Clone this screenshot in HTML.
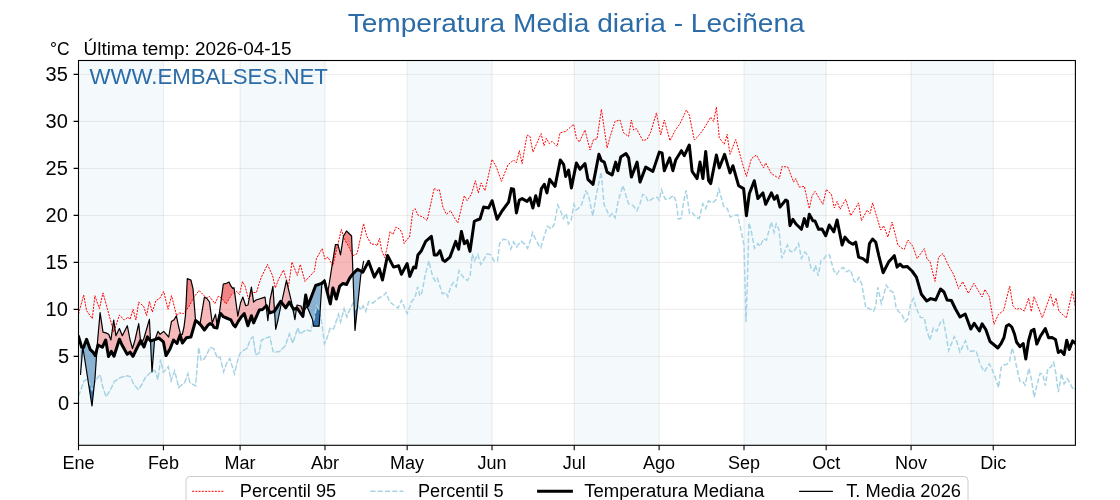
<!DOCTYPE html><html><head><meta charset="utf-8"><style>html,body{margin:0;padding:0;background:#fff;width:1120px;height:500px;overflow:hidden}svg{display:block;will-change:transform}text{font-family:"Liberation Sans",sans-serif}</style></head><body><svg width="1120" height="500" viewBox="0 0 1120 500">
<defs>
<clipPath id="ax"><rect x="78.5" y="60.5" width="996.9" height="384.8"/></clipPath>
<clipPath id="aM"><path d="M78.5,336.4 L81.6,347.1 L83.5,347.5 L86.6,339.3 L90.1,349.3 L93.0,352.1 L95.3,355.6 L98.0,345.0 L102.3,347.3 L105.7,340.0 L108.5,356.5 L111.3,351.4 L114.0,356.2 L119.4,339.2 L122.0,345.0 L127.2,354.3 L130.1,352.1 L133.0,356.3 L136.0,350.0 L138.0,346.0 L140.7,340.5 L144.0,347.0 L147.5,336.8 L150.5,341.0 L155.5,339.4 L158.8,338.0 L163.4,341.8 L166.0,355.6 L170.0,349.0 L173.5,340.0 L177.0,343.5 L180.1,335.0 L182.4,343.0 L186.3,337.8 L190.9,337.1 L195.6,320.5 L198.1,322.4 L200.6,324.9 L204.4,330.0 L208.2,324.9 L210.1,323.6 L212.6,324.9 L213.9,327.4 L217.0,328.0 L219.5,316.1 L220.8,313.6 L223.3,316.7 L226.5,318.0 L230.9,319.9 L233.4,324.9 L235.3,326.8 L238.4,321.1 L241.0,317.3 L244.3,313.6 L247.9,325.7 L251.4,315.7 L253.6,322.9 L259.3,310.0 L262.5,309.5 L266.4,305.7 L270.0,312.9 L274.3,311.4 L280.7,301.4 L285.7,307.9 L289.3,302.1 L293.6,309.3 L297.0,308.0 L302.9,316.4 L305.7,295.0 L307.9,305.7 L315.7,285.5 L321.0,283.7 L324.4,281.1 L330.3,304.0 L332.9,288.0 L336.3,299.0 L339.7,286.2 L343.0,283.5 L346.5,284.5 L349.9,277.7 L353.3,273.5 L357.5,269.2 L362.9,272.1 L368.6,261.4 L374.3,277.1 L379.3,268.6 L382.5,280.0 L387.5,255.5 L393.6,267.1 L398.6,265.7 L401.4,274.3 L407.1,263.6 L409.8,276.4 L413.6,267.1 L415.7,267.9 L417.9,255.0 L421.4,250.7 L425.7,241.4 L431.4,236.4 L434.3,255.0 L437.0,255.0 L440.0,250.7 L442.9,260.0 L445.0,261.4 L450.0,257.1 L455.7,241.4 L458.6,249.3 L461.4,231.4 L464.3,243.6 L467.1,240.7 L470.0,251.4 L474.3,221.4 L477.0,220.0 L480.0,219.0 L483.6,207.1 L488.6,207.9 L492.1,200.7 L497.1,219.3 L502.0,211.0 L508.6,202.1 L511.4,188.6 L513.6,189.3 L516.4,212.9 L519.3,200.0 L522.1,198.6 L527.1,201.4 L530.0,197.9 L532.9,208.0 L535.7,195.7 L538.6,205.7 L541.4,188.6 L544.3,184.3 L546.9,192.9 L549.7,179.3 L555.0,186.4 L560.3,160.0 L563.6,164.3 L565.7,176.4 L568.6,170.0 L571.4,187.9 L576.4,162.9 L580.0,169.3 L585.0,163.6 L587.9,179.3 L593.1,184.3 L598.9,154.3 L601.4,160.7 L604.3,162.1 L607.1,172.1 L612.1,175.0 L615.7,162.1 L617.9,170.7 L620.7,157.1 L626.0,153.6 L628.6,157.9 L631.4,177.1 L637.1,162.1 L640.0,182.1 L645.7,167.1 L652.9,171.4 L659.3,152.1 L662.1,152.9 L664.3,170.7 L669.7,157.9 L672.9,170.7 L675.7,160.0 L681.4,150.7 L684.3,155.7 L689.3,145.0 L692.1,171.4 L697.1,178.6 L700.0,162.1 L702.9,178.6 L705.7,151.4 L708.6,180.7 L710.7,183.6 L716.4,155.0 L719.3,167.9 L724.6,154.3 L730.0,172.9 L732.9,165.7 L738.6,185.7 L743.6,188.6 L746.4,215.7 L749.3,193.8 L754.3,180.7 L757.9,198.6 L762.9,192.9 L765.7,204.3 L771.4,192.9 L774.3,199.3 L777.1,195.7 L780.0,207.1 L785.7,200.0 L787.5,201.0 L790.0,225.7 L792.9,219.3 L796.0,224.0 L801.4,229.3 L804.3,218.6 L807.1,226.4 L809.3,214.3 L812.9,220.7 L815.0,221.0 L818.6,229.3 L822.0,229.0 L825.7,235.7 L829.3,225.0 L833.8,231.8 L837.1,220.0 L842.1,245.0 L845.0,237.1 L849.0,242.0 L852.9,244.3 L855.7,242.1 L858.6,257.1 L862.9,258.6 L867.2,262.0 L869.5,243.5 L872.6,239.0 L875.8,242.3 L878.9,256.0 L883.1,272.7 L888.6,262.1 L894.3,255.7 L897.1,267.1 L900.0,264.0 L902.9,267.1 L907.1,266.4 L912.0,271.0 L916.4,277.1 L921.4,294.3 L926.7,301.0 L930.7,298.6 L935.7,300.0 L940.5,289.0 L944.0,292.0 L947.1,300.0 L951.4,300.5 L955.5,309.0 L960.0,317.0 L965.2,314.0 L970.8,329.0 L974.2,323.4 L979.4,331.0 L982.1,323.8 L985.8,329.6 L990.0,341.5 L993.7,344.5 L997.8,348.0 L1001.1,343.5 L1004.0,337.5 L1006.4,326.0 L1009.0,324.5 L1011.8,327.0 L1014.5,334.0 L1016.5,342.0 L1019.9,346.7 L1023.2,343.5 L1025.8,359.1 L1028.5,341.0 L1031.3,330.8 L1034.0,329.2 L1036.8,344.1 L1040.5,336.0 L1045.3,328.6 L1048.6,337.8 L1052.0,337.5 L1055.5,339.5 L1058.3,352.5 L1060.9,350.6 L1064.1,354.5 L1066.7,340.2 L1069.3,349.5 L1072.6,340.9 L1075.4,343.5 L1075.4,0 L78.5,0 Z"/></clipPath>
<clipPath id="bM"><path d="M78.5,336.4 L81.6,347.1 L83.5,347.5 L86.6,339.3 L90.1,349.3 L93.0,352.1 L95.3,355.6 L98.0,345.0 L102.3,347.3 L105.7,340.0 L108.5,356.5 L111.3,351.4 L114.0,356.2 L119.4,339.2 L122.0,345.0 L127.2,354.3 L130.1,352.1 L133.0,356.3 L136.0,350.0 L138.0,346.0 L140.7,340.5 L144.0,347.0 L147.5,336.8 L150.5,341.0 L155.5,339.4 L158.8,338.0 L163.4,341.8 L166.0,355.6 L170.0,349.0 L173.5,340.0 L177.0,343.5 L180.1,335.0 L182.4,343.0 L186.3,337.8 L190.9,337.1 L195.6,320.5 L198.1,322.4 L200.6,324.9 L204.4,330.0 L208.2,324.9 L210.1,323.6 L212.6,324.9 L213.9,327.4 L217.0,328.0 L219.5,316.1 L220.8,313.6 L223.3,316.7 L226.5,318.0 L230.9,319.9 L233.4,324.9 L235.3,326.8 L238.4,321.1 L241.0,317.3 L244.3,313.6 L247.9,325.7 L251.4,315.7 L253.6,322.9 L259.3,310.0 L262.5,309.5 L266.4,305.7 L270.0,312.9 L274.3,311.4 L280.7,301.4 L285.7,307.9 L289.3,302.1 L293.6,309.3 L297.0,308.0 L302.9,316.4 L305.7,295.0 L307.9,305.7 L315.7,285.5 L321.0,283.7 L324.4,281.1 L330.3,304.0 L332.9,288.0 L336.3,299.0 L339.7,286.2 L343.0,283.5 L346.5,284.5 L349.9,277.7 L353.3,273.5 L357.5,269.2 L362.9,272.1 L368.6,261.4 L374.3,277.1 L379.3,268.6 L382.5,280.0 L387.5,255.5 L393.6,267.1 L398.6,265.7 L401.4,274.3 L407.1,263.6 L409.8,276.4 L413.6,267.1 L415.7,267.9 L417.9,255.0 L421.4,250.7 L425.7,241.4 L431.4,236.4 L434.3,255.0 L437.0,255.0 L440.0,250.7 L442.9,260.0 L445.0,261.4 L450.0,257.1 L455.7,241.4 L458.6,249.3 L461.4,231.4 L464.3,243.6 L467.1,240.7 L470.0,251.4 L474.3,221.4 L477.0,220.0 L480.0,219.0 L483.6,207.1 L488.6,207.9 L492.1,200.7 L497.1,219.3 L502.0,211.0 L508.6,202.1 L511.4,188.6 L513.6,189.3 L516.4,212.9 L519.3,200.0 L522.1,198.6 L527.1,201.4 L530.0,197.9 L532.9,208.0 L535.7,195.7 L538.6,205.7 L541.4,188.6 L544.3,184.3 L546.9,192.9 L549.7,179.3 L555.0,186.4 L560.3,160.0 L563.6,164.3 L565.7,176.4 L568.6,170.0 L571.4,187.9 L576.4,162.9 L580.0,169.3 L585.0,163.6 L587.9,179.3 L593.1,184.3 L598.9,154.3 L601.4,160.7 L604.3,162.1 L607.1,172.1 L612.1,175.0 L615.7,162.1 L617.9,170.7 L620.7,157.1 L626.0,153.6 L628.6,157.9 L631.4,177.1 L637.1,162.1 L640.0,182.1 L645.7,167.1 L652.9,171.4 L659.3,152.1 L662.1,152.9 L664.3,170.7 L669.7,157.9 L672.9,170.7 L675.7,160.0 L681.4,150.7 L684.3,155.7 L689.3,145.0 L692.1,171.4 L697.1,178.6 L700.0,162.1 L702.9,178.6 L705.7,151.4 L708.6,180.7 L710.7,183.6 L716.4,155.0 L719.3,167.9 L724.6,154.3 L730.0,172.9 L732.9,165.7 L738.6,185.7 L743.6,188.6 L746.4,215.7 L749.3,193.8 L754.3,180.7 L757.9,198.6 L762.9,192.9 L765.7,204.3 L771.4,192.9 L774.3,199.3 L777.1,195.7 L780.0,207.1 L785.7,200.0 L787.5,201.0 L790.0,225.7 L792.9,219.3 L796.0,224.0 L801.4,229.3 L804.3,218.6 L807.1,226.4 L809.3,214.3 L812.9,220.7 L815.0,221.0 L818.6,229.3 L822.0,229.0 L825.7,235.7 L829.3,225.0 L833.8,231.8 L837.1,220.0 L842.1,245.0 L845.0,237.1 L849.0,242.0 L852.9,244.3 L855.7,242.1 L858.6,257.1 L862.9,258.6 L867.2,262.0 L869.5,243.5 L872.6,239.0 L875.8,242.3 L878.9,256.0 L883.1,272.7 L888.6,262.1 L894.3,255.7 L897.1,267.1 L900.0,264.0 L902.9,267.1 L907.1,266.4 L912.0,271.0 L916.4,277.1 L921.4,294.3 L926.7,301.0 L930.7,298.6 L935.7,300.0 L940.5,289.0 L944.0,292.0 L947.1,300.0 L951.4,300.5 L955.5,309.0 L960.0,317.0 L965.2,314.0 L970.8,329.0 L974.2,323.4 L979.4,331.0 L982.1,323.8 L985.8,329.6 L990.0,341.5 L993.7,344.5 L997.8,348.0 L1001.1,343.5 L1004.0,337.5 L1006.4,326.0 L1009.0,324.5 L1011.8,327.0 L1014.5,334.0 L1016.5,342.0 L1019.9,346.7 L1023.2,343.5 L1025.8,359.1 L1028.5,341.0 L1031.3,330.8 L1034.0,329.2 L1036.8,344.1 L1040.5,336.0 L1045.3,328.6 L1048.6,337.8 L1052.0,337.5 L1055.5,339.5 L1058.3,352.5 L1060.9,350.6 L1064.1,354.5 L1066.7,340.2 L1069.3,349.5 L1072.6,340.9 L1075.4,343.5 L1075.4,500 L78.5,500 Z"/></clipPath>
<clipPath id="a95"><path d="M78.5,314.0 L83.7,295.0 L86.6,310.7 L92.3,318.6 L94.9,295.7 L99.4,308.6 L103.0,292.9 L107.3,308.6 L113.7,332.1 L119.4,315.0 L124.4,320.0 L128.0,317.1 L130.0,319.5 L133.0,309.3 L135.9,320.0 L138.7,302.1 L143.7,306.4 L146.6,315.7 L149.4,301.4 L152.3,312.1 L155.9,300.7 L160.1,297.9 L163.7,291.4 L168.0,309.3 L171.6,295.7 L176.6,315.7 L179.4,312.9 L183.7,313.6 L189.0,306.5 L194.0,297.0 L199.0,290.5 L204.0,295.5 L206.5,298.0 L209.5,296.5 L215.0,303.5 L218.5,296.0 L222.0,298.5 L226.0,304.0 L232.0,294.0 L236.6,291.4 L239.5,294.5 L242.5,281.5 L245.0,286.0 L248.5,299.0 L252.5,292.5 L256.5,292.5 L258.6,285.0 L261.4,277.0 L267.5,264.5 L272.7,276.0 L275.3,288.0 L278.5,279.5 L283.5,270.0 L288.5,286.5 L292.0,262.0 L297.3,275.5 L300.3,264.4 L305.0,281.4 L314.3,271.4 L316.4,258.6 L322.1,248.6 L325.0,259.3 L327.9,257.1 L332.9,265.7 L341.4,229.3 L344.3,239.3 L348.6,246.4 L352.9,255.7 L357.1,253.6 L363.6,223.6 L366.7,236.0 L371.2,244.2 L375.0,244.2 L377.2,245.7 L379.5,238.2 L381.7,250.2 L384.7,257.7 L387.0,248.0 L390.0,231.5 L393.0,234.5 L396.0,227.0 L399.7,229.2 L402.0,233.0 L404.2,243.5 L407.2,239.0 L409.5,237.5 L412.9,210.7 L415.0,208.6 L417.9,215.0 L422.9,217.1 L427.1,220.5 L434.3,187.9 L437.1,190.7 L439.3,189.3 L442.9,207.1 L446.4,214.3 L450.7,210.7 L453.6,216.4 L457.8,223.0 L464.3,195.7 L467.1,200.7 L471.4,194.3 L475.4,180.7 L478.3,192.9 L481.1,182.9 L485.0,190.7 L492.1,159.3 L496.4,167.1 L501.4,181.4 L507.9,165.0 L513.6,160.0 L516.4,162.9 L519.3,150.7 L522.1,163.6 L527.0,135.0 L530.0,136.4 L532.9,152.1 L541.1,133.6 L544.0,145.7 L546.4,138.3 L549.3,143.6 L552.1,141.4 L557.1,146.4 L560.0,132.9 L565.7,131.4 L573.6,124.3 L576.4,137.9 L579.3,142.1 L585.0,130.0 L590.0,150.0 L593.6,139.3 L597.0,139.0 L601.4,109.3 L607.1,147.9 L610.0,137.1 L615.0,121.4 L620.0,120.0 L623.6,132.9 L628.6,136.4 L631.4,120.0 L633.6,130.0 L636.4,128.6 L642.9,140.7 L647.1,139.3 L650.7,132.1 L656.4,112.9 L660.7,135.0 L664.3,120.0 L670.0,140.7 L675.0,130.7 L680.0,123.6 L686.4,110.0 L689.3,115.0 L694.3,140.0 L699.3,135.0 L702.9,130.0 L705.7,125.7 L710.7,117.1 L713.6,121.4 L716.4,107.1 L719.3,137.9 L724.3,144.3 L727.1,134.3 L730.0,154.3 L735.7,139.5 L742.9,165.0 L746.4,176.4 L751.4,158.6 L756.4,155.0 L763.6,167.9 L765.7,162.9 L771.4,173.6 L779.3,178.6 L782.1,166.4 L787.9,167.1 L793.6,182.1 L795.7,178.6 L799.3,187.1 L804.3,186.4 L809.3,208.6 L812.1,195.7 L815.0,191.4 L822.9,204.3 L826.4,189.3 L831.4,194.3 L834.3,207.9 L837.1,201.4 L840.0,209.3 L845.7,199.3 L850.7,215.7 L858.6,202.9 L861.4,220.7 L867.1,210.0 L870.0,213.6 L872.6,202.9 L880.7,230.0 L883.6,225.7 L887.9,237.1 L892.1,222.1 L897.9,245.0 L901.4,247.9 L904.3,249.3 L907.9,240.0 L912.9,246.4 L917.1,258.6 L924.3,248.6 L927.1,259.3 L930.0,261.4 L935.0,281.4 L938.6,257.1 L942.9,253.6 L949.3,267.1 L953.6,274.3 L958.6,288.6 L962.8,281.6 L968.3,293.4 L973.9,283.3 L982.1,297.0 L984.9,289.4 L989.2,296.5 L994.0,324.3 L998.3,314.6 L1003.5,310.6 L1009.7,286.2 L1012.9,305.6 L1016.2,309.4 L1019.9,308.3 L1024.3,311.0 L1028.6,298.1 L1031.3,311.6 L1034.0,296.5 L1042.3,317.7 L1050.7,294.3 L1053.4,306.2 L1056.1,298.1 L1058.8,311.0 L1066.4,318.0 L1072.3,291.6 L1075.4,306.2 L1075.4,0 L78.5,0 Z"/></clipPath>
<clipPath id="b5"><path d="M78.5,396.0 L82.2,386.0 L84.3,380.6 L87.8,379.2 L92.0,390.0 L95.0,382.0 L98.0,377.0 L100.4,375.0 L102.5,386.0 L106.0,396.7 L110.2,390.4 L114.4,381.3 L120.0,377.8 L124.2,376.4 L127.7,375.7 L130.5,377.1 L133.3,383.4 L138.2,389.7 L141.7,384.8 L145.2,377.8 L149.4,373.6 L153.6,370.1 L155.5,372.0 L157.8,379.9 L160.6,359.6 L163.4,372.2 L168.3,366.6 L171.1,380.6 L174.6,370.8 L178.8,387.6 L181.5,385.0 L184.5,383.0 L187.9,373.6 L190.0,383.0 L192.8,384.4 L195.6,385.8 L198.7,347.3 L201.2,360.6 L204.0,359.2 L206.1,355.7 L210.3,347.3 L213.8,348.7 L217.3,357.8 L220.1,357.1 L223.6,371.8 L227.1,362.0 L229.9,358.5 L234.5,373.9 L238.3,357.8 L240.4,352.9 L243.9,350.1 L247.4,348.0 L250.2,339.6 L253.0,336.8 L255.8,355.0 L259.3,352.9 L261.4,340.3 L265.6,338.2 L269.8,336.8 L273.3,352.2 L279.6,351.5 L285.2,345.9 L289.4,334.0 L292.9,343.1 L297.8,327.7 L299.9,334.0 L306.2,329.8 L310.5,331.1 L313.3,322.0 L316.8,305.9 L319.6,310.8 L322.0,325.0 L324.5,343.7 L327.0,338.0 L330.1,328.3 L333.6,329.0 L338.5,314.3 L340.6,322.0 L344.1,308.7 L346.9,317.1 L350.4,308.0 L353.2,303.1 L355.5,309.0 L357.4,305.2 L360.9,309.4 L363.0,305.9 L365.8,311.5 L368.6,301.7 L372.8,303.1 L376.3,300.3 L379.8,297.5 L383.0,296.0 L386.1,292.6 L389.6,301.7 L393.1,304.5 L398.0,308.0 L401.5,300.3 L407.1,313.6 L412.0,301.0 L414.9,298.0 L417.7,286.8 L419.8,295.9 L421.9,292.4 L425.4,274.2 L428.9,260.9 L432.4,275.6 L435.2,281.2 L437.3,278.4 L440.1,286.8 L442.2,293.8 L445.7,292.4 L447.8,296.6 L450.6,286.8 L453.4,282.6 L456.2,286.8 L459.0,270.7 L463.2,277.0 L467.4,280.5 L470.2,275.6 L472.3,253.9 L474.4,260.9 L477.9,254.6 L480.7,264.4 L482.8,261.6 L487.0,253.9 L490.5,254.6 L494.0,260.9 L497.5,260.9 L499.6,243.4 L503.1,239.2 L508.0,239.9 L510.8,249.0 L513.6,242.0 L516.4,246.9 L521.3,241.3 L524.8,244.1 L527.6,248.3 L530.5,240.0 L532.6,232.4 L535.0,238.0 L538.6,245.0 L540.8,247.7 L544.5,235.2 L547.3,226.1 L551.5,228.9 L554.3,224.0 L557.8,205.1 L561.3,212.8 L563.4,218.4 L566.2,213.5 L568.3,224.0 L571.1,220.5 L573.9,204.4 L576.0,210.0 L580.9,206.5 L585.8,191.1 L588.6,195.3 L592.8,216.3 L596.3,194.6 L601.2,172.2 L604.0,204.4 L609.6,216.3 L612.4,213.5 L615.2,217.7 L618.0,201.6 L622.9,185.5 L628.5,203.7 L633.4,205.8 L636.9,210.7 L639.8,204.4 L642.6,194.6 L645.4,195.3 L648.2,201.6 L653.1,198.1 L657.3,197.4 L659.4,200.2 L661.5,189.7 L665.0,198.8 L668.5,199.5 L673.4,195.3 L676.2,201.6 L678.3,219.1 L681.1,218.4 L683.9,200.2 L686.0,190.4 L688.1,203.0 L689.5,213.5 L692.3,212.8 L695.8,217.0 L699.3,218.4 L702.8,203.7 L705.6,208.6 L708.4,200.9 L712.6,203.0 L716.1,199.5 L718.9,189.0 L723.8,206.5 L727.3,208.6 L730.1,217.0 L733.6,215.6 L737.7,214.9 L740.5,228.2 L744.0,245.0 L746.0,322.0 L747.5,278.6 L748.9,222.6 L751.0,229.6 L754.5,248.5 L758.0,243.6 L760.1,246.4 L763.6,238.7 L766.4,240.1 L771.3,221.9 L774.1,232.4 L776.2,224.0 L779.0,229.6 L781.8,258.3 L787.4,245.0 L790.2,251.3 L793.7,252.0 L798.6,243.6 L801.4,258.3 L804.9,252.0 L808.4,256.2 L811.2,268.8 L814.0,270.9 L815.4,265.3 L818.2,275.8 L821.0,260.4 L823.8,259.0 L826.6,254.8 L829.4,254.8 L833.6,270.2 L836.4,274.4 L840.6,268.8 L843.4,267.4 L846.3,271.9 L850.5,269.8 L854.0,281.0 L856.1,282.4 L858.9,277.5 L861.7,283.8 L865.9,308.3 L868.7,308.3 L873.6,311.1 L875.7,306.2 L877.8,287.3 L881.3,303.4 L883.4,296.4 L886.2,285.2 L889.7,290.1 L893.9,292.9 L896.0,307.6 L898.8,311.8 L901.6,313.9 L905.1,321.6 L907.9,318.8 L910.7,303.4 L913.5,298.5 L916.3,308.3 L920.5,317.4 L924.2,317.7 L926.3,328.2 L929.8,340.1 L933.3,328.2 L936.8,331.0 L940.3,322.6 L943.1,319.8 L945.9,333.8 L948.7,350.6 L954.3,336.6 L956.4,340.1 L959.9,352.0 L965.5,340.8 L968.3,350.6 L971.8,351.3 L976.0,350.6 L980.2,364.6 L984.4,371.6 L989.3,363.9 L991.4,367.4 L995.6,378.6 L998.5,387.7 L1001.1,367.5 L1003.7,364.9 L1006.9,364.3 L1009.5,361.7 L1012.1,348.0 L1014.1,354.5 L1016.7,367.5 L1019.9,381.2 L1022.5,381.2 L1025.1,385.1 L1029.0,368.2 L1031.6,380.5 L1034.2,397.4 L1036.8,385.7 L1040.1,373.4 L1042.7,374.0 L1045.3,385.7 L1047.9,368.2 L1050.5,367.5 L1053.7,362.3 L1055.7,372.7 L1058.3,392.2 L1060.2,381.8 L1061.5,373.4 L1064.1,383.8 L1067.4,378.6 L1070.6,384.4 L1073.2,389.6 L1075.4,388.3 L1075.4,500 L78.5,500 Z"/></clipPath>
</defs>
<rect width="1120" height="500" fill="#fff"/>
<rect x="78.50" y="60.5" width="84.90" height="384.8" fill="#f4f9fc"/>
<rect x="240.09" y="60.5" width="84.90" height="384.8" fill="#f4f9fc"/>
<rect x="407.15" y="60.5" width="84.90" height="384.8" fill="#f4f9fc"/>
<rect x="574.21" y="60.5" width="84.90" height="384.8" fill="#f4f9fc"/>
<rect x="744.01" y="60.5" width="82.16" height="384.8" fill="#f4f9fc"/>
<rect x="911.08" y="60.5" width="82.16" height="384.8" fill="#f4f9fc"/>
<path d="M78.50,60.5V445.3M163.40,60.5V445.3M240.09,60.5V445.3M324.99,60.5V445.3M407.15,60.5V445.3M492.05,60.5V445.3M574.21,60.5V445.3M659.11,60.5V445.3M744.01,60.5V445.3M826.18,60.5V445.3M911.08,60.5V445.3M993.24,60.5V445.3M78.5,403.40H1075.4M78.5,356.40H1075.4M78.5,309.40H1075.4M78.5,262.40H1075.4M78.5,215.40H1075.4M78.5,168.40H1075.4M78.5,121.40H1075.4M78.5,74.40H1075.4" stroke="#b0b0b0" stroke-opacity="0.3" stroke-width="0.8" fill="none"/>
<g clip-path="url(#ax)">
<g clip-path="url(#aM)"><path d="M80.5,374.5 L82.8,347.0 L92.0,406.0 L95.0,378.0 L97.5,342.0 L100.1,312.6 L103.0,332.1 L105.9,332.9 L108.7,334.3 L110.9,340.0 L113.7,320.0 L115.9,335.7 L119.4,328.6 L122.3,335.7 L127.3,325.7 L130.1,340.0 L132.5,348.5 L135.0,340.0 L138.7,323.6 L141.0,345.0 L144.0,338.0 L149.4,319.3 L152.0,372.0 L154.5,341.0 L158.0,331.4 L160.1,334.3 L163.7,331.4 L168.7,337.0 L171.4,321.6 L174.1,319.8 L176.4,315.8 L178.5,326.0 L180.5,334.2 L182.3,334.5 L184.0,327.0 L185.5,315.0 L187.3,278.6 L190.9,280.0 L193.0,288.6 L195.6,321.0 L198.0,322.0 L200.0,324.0 L204.4,297.2 L206.9,298.5 L209.5,302.0 L212.2,323.0 L215.5,314.2 L217.2,326.0 L219.5,312.3 L223.3,284.0 L226.5,283.3 L229.0,282.0 L230.9,285.9 L232.7,288.4 L234.0,287.7 L237.8,316.1 L240.5,303.0 L242.9,297.1 L245.7,305.7 L248.0,305.0 L251.4,287.1 L253.6,302.1 L256.0,300.0 L265.0,297.1 L267.9,320.7 L270.0,300.0 L272.9,286.4 L275.7,329.3 L278.0,320.0 L280.0,310.0 L286.4,280.7 L291.4,301.4 L294.9,319.6 L297.0,305.0 L301.0,306.0 L303.0,312.0 L307.0,306.4 L312.5,319.6 L313.6,326.2 L319.1,326.2 L321.8,285.0 L324.5,279.5 L327.8,292.5 L335.4,244.6 L338.0,244.6 L340.5,254.8 L343.5,236.0 L346.5,231.0 L351.6,236.0 L355.0,330.5 L360.7,276.0 L363.6,261.4 L363.6,270.8 L362.9,272.1 L357.5,269.2 L353.3,273.5 L349.9,277.7 L346.5,284.5 L343.0,283.5 L339.7,286.2 L336.3,299.0 L332.9,288.0 L330.3,304.0 L324.4,281.1 L321.0,283.7 L315.7,285.5 L307.9,305.7 L305.7,295.0 L302.9,316.4 L297.0,308.0 L293.6,309.3 L289.3,302.1 L285.7,307.9 L280.7,301.4 L274.3,311.4 L270.0,312.9 L266.4,305.7 L262.5,309.5 L259.3,310.0 L253.6,322.9 L251.4,315.7 L247.9,325.7 L244.3,313.6 L241.0,317.3 L238.4,321.1 L235.3,326.8 L233.4,324.9 L230.9,319.9 L226.5,318.0 L223.3,316.7 L220.8,313.6 L219.5,316.1 L217.0,328.0 L213.9,327.4 L212.6,324.9 L210.1,323.6 L208.2,324.9 L204.4,330.0 L200.6,324.9 L198.1,322.4 L195.6,320.5 L190.9,337.1 L186.3,337.8 L182.4,343.0 L180.1,335.0 L177.0,343.5 L173.5,340.0 L170.0,349.0 L166.0,355.6 L163.4,341.8 L158.8,338.0 L155.5,339.4 L150.5,341.0 L147.5,336.8 L144.0,347.0 L140.7,340.5 L138.0,346.0 L136.0,350.0 L133.0,356.3 L130.1,352.1 L127.2,354.3 L122.0,345.0 L119.4,339.2 L114.0,356.2 L111.3,351.4 L108.5,356.5 L105.7,340.0 L102.3,347.3 L98.0,345.0 L95.3,355.6 L93.0,352.1 L90.1,349.3 L86.6,339.3 L83.5,347.5 L81.6,347.1 L80.5,343.3 Z" fill="#f08080" fill-opacity="0.55"/></g>
<g clip-path="url(#bM)"><path d="M80.5,374.5 L82.8,347.0 L92.0,406.0 L95.0,378.0 L97.5,342.0 L100.1,312.6 L103.0,332.1 L105.9,332.9 L108.7,334.3 L110.9,340.0 L113.7,320.0 L115.9,335.7 L119.4,328.6 L122.3,335.7 L127.3,325.7 L130.1,340.0 L132.5,348.5 L135.0,340.0 L138.7,323.6 L141.0,345.0 L144.0,338.0 L149.4,319.3 L152.0,372.0 L154.5,341.0 L158.0,331.4 L160.1,334.3 L163.7,331.4 L168.7,337.0 L171.4,321.6 L174.1,319.8 L176.4,315.8 L178.5,326.0 L180.5,334.2 L182.3,334.5 L184.0,327.0 L185.5,315.0 L187.3,278.6 L190.9,280.0 L193.0,288.6 L195.6,321.0 L198.0,322.0 L200.0,324.0 L204.4,297.2 L206.9,298.5 L209.5,302.0 L212.2,323.0 L215.5,314.2 L217.2,326.0 L219.5,312.3 L223.3,284.0 L226.5,283.3 L229.0,282.0 L230.9,285.9 L232.7,288.4 L234.0,287.7 L237.8,316.1 L240.5,303.0 L242.9,297.1 L245.7,305.7 L248.0,305.0 L251.4,287.1 L253.6,302.1 L256.0,300.0 L265.0,297.1 L267.9,320.7 L270.0,300.0 L272.9,286.4 L275.7,329.3 L278.0,320.0 L280.0,310.0 L286.4,280.7 L291.4,301.4 L294.9,319.6 L297.0,305.0 L301.0,306.0 L303.0,312.0 L307.0,306.4 L312.5,319.6 L313.6,326.2 L319.1,326.2 L321.8,285.0 L324.5,279.5 L327.8,292.5 L335.4,244.6 L338.0,244.6 L340.5,254.8 L343.5,236.0 L346.5,231.0 L351.6,236.0 L355.0,330.5 L360.7,276.0 L363.6,261.4 L363.6,270.8 L362.9,272.1 L357.5,269.2 L353.3,273.5 L349.9,277.7 L346.5,284.5 L343.0,283.5 L339.7,286.2 L336.3,299.0 L332.9,288.0 L330.3,304.0 L324.4,281.1 L321.0,283.7 L315.7,285.5 L307.9,305.7 L305.7,295.0 L302.9,316.4 L297.0,308.0 L293.6,309.3 L289.3,302.1 L285.7,307.9 L280.7,301.4 L274.3,311.4 L270.0,312.9 L266.4,305.7 L262.5,309.5 L259.3,310.0 L253.6,322.9 L251.4,315.7 L247.9,325.7 L244.3,313.6 L241.0,317.3 L238.4,321.1 L235.3,326.8 L233.4,324.9 L230.9,319.9 L226.5,318.0 L223.3,316.7 L220.8,313.6 L219.5,316.1 L217.0,328.0 L213.9,327.4 L212.6,324.9 L210.1,323.6 L208.2,324.9 L204.4,330.0 L200.6,324.9 L198.1,322.4 L195.6,320.5 L190.9,337.1 L186.3,337.8 L182.4,343.0 L180.1,335.0 L177.0,343.5 L173.5,340.0 L170.0,349.0 L166.0,355.6 L163.4,341.8 L158.8,338.0 L155.5,339.4 L150.5,341.0 L147.5,336.8 L144.0,347.0 L140.7,340.5 L138.0,346.0 L136.0,350.0 L133.0,356.3 L130.1,352.1 L127.2,354.3 L122.0,345.0 L119.4,339.2 L114.0,356.2 L111.3,351.4 L108.5,356.5 L105.7,340.0 L102.3,347.3 L98.0,345.0 L95.3,355.6 L93.0,352.1 L90.1,349.3 L86.6,339.3 L83.5,347.5 L81.6,347.1 L80.5,343.3 Z" fill="#4682b4" fill-opacity="0.6"/></g>
<g clip-path="url(#a95)"><path d="M80.5,374.5 L82.8,347.0 L92.0,406.0 L95.0,378.0 L97.5,342.0 L100.1,312.6 L103.0,332.1 L105.9,332.9 L108.7,334.3 L110.9,340.0 L113.7,320.0 L115.9,335.7 L119.4,328.6 L122.3,335.7 L127.3,325.7 L130.1,340.0 L132.5,348.5 L135.0,340.0 L138.7,323.6 L141.0,345.0 L144.0,338.0 L149.4,319.3 L152.0,372.0 L154.5,341.0 L158.0,331.4 L160.1,334.3 L163.7,331.4 L168.7,337.0 L171.4,321.6 L174.1,319.8 L176.4,315.8 L178.5,326.0 L180.5,334.2 L182.3,334.5 L184.0,327.0 L185.5,315.0 L187.3,278.6 L190.9,280.0 L193.0,288.6 L195.6,321.0 L198.0,322.0 L200.0,324.0 L204.4,297.2 L206.9,298.5 L209.5,302.0 L212.2,323.0 L215.5,314.2 L217.2,326.0 L219.5,312.3 L223.3,284.0 L226.5,283.3 L229.0,282.0 L230.9,285.9 L232.7,288.4 L234.0,287.7 L237.8,316.1 L240.5,303.0 L242.9,297.1 L245.7,305.7 L248.0,305.0 L251.4,287.1 L253.6,302.1 L256.0,300.0 L265.0,297.1 L267.9,320.7 L270.0,300.0 L272.9,286.4 L275.7,329.3 L278.0,320.0 L280.0,310.0 L286.4,280.7 L291.4,301.4 L294.9,319.6 L297.0,305.0 L301.0,306.0 L303.0,312.0 L307.0,306.4 L312.5,319.6 L313.6,326.2 L319.1,326.2 L321.8,285.0 L324.5,279.5 L327.8,292.5 L335.4,244.6 L338.0,244.6 L340.5,254.8 L343.5,236.0 L346.5,231.0 L351.6,236.0 L355.0,330.5 L360.7,276.0 L363.6,261.4 L363.6,223.6 L357.1,253.6 L352.9,255.7 L348.6,246.4 L344.3,239.3 L341.4,229.3 L332.9,265.7 L327.9,257.1 L325.0,259.3 L322.1,248.6 L316.4,258.6 L314.3,271.4 L305.0,281.4 L300.3,264.4 L297.3,275.5 L292.0,262.0 L288.5,286.5 L283.5,270.0 L278.5,279.5 L275.3,288.0 L272.7,276.0 L267.5,264.5 L261.4,277.0 L258.6,285.0 L256.5,292.5 L252.5,292.5 L248.5,299.0 L245.0,286.0 L242.5,281.5 L239.5,294.5 L236.6,291.4 L232.0,294.0 L226.0,304.0 L222.0,298.5 L218.5,296.0 L215.0,303.5 L209.5,296.5 L206.5,298.0 L204.0,295.5 L199.0,290.5 L194.0,297.0 L189.0,306.5 L183.7,313.6 L179.4,312.9 L176.6,315.7 L171.6,295.7 L168.0,309.3 L163.7,291.4 L160.1,297.9 L155.9,300.7 L152.3,312.1 L149.4,301.4 L146.6,315.7 L143.7,306.4 L138.7,302.1 L135.9,320.0 L133.0,309.3 L130.0,319.5 L128.0,317.1 L124.4,320.0 L119.4,315.0 L113.7,332.1 L107.3,308.6 L103.0,292.9 L99.4,308.6 L94.9,295.7 L92.3,318.6 L86.6,310.7 L83.7,295.0 L80.5,306.7 Z" fill="#f08080" fill-opacity="0.9"/></g>
<g clip-path="url(#b5)"><path d="M80.5,374.5 L82.8,347.0 L92.0,406.0 L95.0,378.0 L97.5,342.0 L100.1,312.6 L103.0,332.1 L105.9,332.9 L108.7,334.3 L110.9,340.0 L113.7,320.0 L115.9,335.7 L119.4,328.6 L122.3,335.7 L127.3,325.7 L130.1,340.0 L132.5,348.5 L135.0,340.0 L138.7,323.6 L141.0,345.0 L144.0,338.0 L149.4,319.3 L152.0,372.0 L154.5,341.0 L158.0,331.4 L160.1,334.3 L163.7,331.4 L168.7,337.0 L171.4,321.6 L174.1,319.8 L176.4,315.8 L178.5,326.0 L180.5,334.2 L182.3,334.5 L184.0,327.0 L185.5,315.0 L187.3,278.6 L190.9,280.0 L193.0,288.6 L195.6,321.0 L198.0,322.0 L200.0,324.0 L204.4,297.2 L206.9,298.5 L209.5,302.0 L212.2,323.0 L215.5,314.2 L217.2,326.0 L219.5,312.3 L223.3,284.0 L226.5,283.3 L229.0,282.0 L230.9,285.9 L232.7,288.4 L234.0,287.7 L237.8,316.1 L240.5,303.0 L242.9,297.1 L245.7,305.7 L248.0,305.0 L251.4,287.1 L253.6,302.1 L256.0,300.0 L265.0,297.1 L267.9,320.7 L270.0,300.0 L272.9,286.4 L275.7,329.3 L278.0,320.0 L280.0,310.0 L286.4,280.7 L291.4,301.4 L294.9,319.6 L297.0,305.0 L301.0,306.0 L303.0,312.0 L307.0,306.4 L312.5,319.6 L313.6,326.2 L319.1,326.2 L321.8,285.0 L324.5,279.5 L327.8,292.5 L335.4,244.6 L338.0,244.6 L340.5,254.8 L343.5,236.0 L346.5,231.0 L351.6,236.0 L355.0,330.5 L360.7,276.0 L363.6,261.4 L363.6,307.1 L363.0,305.9 L360.9,309.4 L357.4,305.2 L355.5,309.0 L353.2,303.1 L350.4,308.0 L346.9,317.1 L344.1,308.7 L340.6,322.0 L338.5,314.3 L333.6,329.0 L330.1,328.3 L327.0,338.0 L324.5,343.7 L322.0,325.0 L319.6,310.8 L316.8,305.9 L313.3,322.0 L310.5,331.1 L306.2,329.8 L299.9,334.0 L297.8,327.7 L292.9,343.1 L289.4,334.0 L285.2,345.9 L279.6,351.5 L273.3,352.2 L269.8,336.8 L265.6,338.2 L261.4,340.3 L259.3,352.9 L255.8,355.0 L253.0,336.8 L250.2,339.6 L247.4,348.0 L243.9,350.1 L240.4,352.9 L238.3,357.8 L234.5,373.9 L229.9,358.5 L227.1,362.0 L223.6,371.8 L220.1,357.1 L217.3,357.8 L213.8,348.7 L210.3,347.3 L206.1,355.7 L204.0,359.2 L201.2,360.6 L198.7,347.3 L195.6,385.8 L192.8,384.4 L190.0,383.0 L187.9,373.6 L184.5,383.0 L181.5,385.0 L178.8,387.6 L174.6,370.8 L171.1,380.6 L168.3,366.6 L163.4,372.2 L160.6,359.6 L157.8,379.9 L155.5,372.0 L153.6,370.1 L149.4,373.6 L145.2,377.8 L141.7,384.8 L138.2,389.7 L133.3,383.4 L130.5,377.1 L127.7,375.7 L124.2,376.4 L120.0,377.8 L114.4,381.3 L110.2,390.4 L106.0,396.7 L102.5,386.0 L100.4,375.0 L98.0,377.0 L95.0,382.0 L92.0,390.0 L87.8,379.2 L84.3,380.6 L82.2,386.0 L80.5,390.6 Z" fill="#1b63a6" fill-opacity="0.8"/></g>
<polyline points="78.5,314.0 83.7,295.0 86.6,310.7 92.3,318.6 94.9,295.7 99.4,308.6 103.0,292.9 107.3,308.6 113.7,332.1 119.4,315.0 124.4,320.0 128.0,317.1 130.0,319.5 133.0,309.3 135.9,320.0 138.7,302.1 143.7,306.4 146.6,315.7 149.4,301.4 152.3,312.1 155.9,300.7 160.1,297.9 163.7,291.4 168.0,309.3 171.6,295.7 176.6,315.7 179.4,312.9 183.7,313.6 189.0,306.5 194.0,297.0 199.0,290.5 204.0,295.5 206.5,298.0 209.5,296.5 215.0,303.5 218.5,296.0 222.0,298.5 226.0,304.0 232.0,294.0 236.6,291.4 239.5,294.5 242.5,281.5 245.0,286.0 248.5,299.0 252.5,292.5 256.5,292.5 258.6,285.0 261.4,277.0 267.5,264.5 272.7,276.0 275.3,288.0 278.5,279.5 283.5,270.0 288.5,286.5 292.0,262.0 297.3,275.5 300.3,264.4 305.0,281.4 314.3,271.4 316.4,258.6 322.1,248.6 325.0,259.3 327.9,257.1 332.9,265.7 341.4,229.3 344.3,239.3 348.6,246.4 352.9,255.7 357.1,253.6 363.6,223.6 366.7,236.0 371.2,244.2 375.0,244.2 377.2,245.7 379.5,238.2 381.7,250.2 384.7,257.7 387.0,248.0 390.0,231.5 393.0,234.5 396.0,227.0 399.7,229.2 402.0,233.0 404.2,243.5 407.2,239.0 409.5,237.5 412.9,210.7 415.0,208.6 417.9,215.0 422.9,217.1 427.1,220.5 434.3,187.9 437.1,190.7 439.3,189.3 442.9,207.1 446.4,214.3 450.7,210.7 453.6,216.4 457.8,223.0 464.3,195.7 467.1,200.7 471.4,194.3 475.4,180.7 478.3,192.9 481.1,182.9 485.0,190.7 492.1,159.3 496.4,167.1 501.4,181.4 507.9,165.0 513.6,160.0 516.4,162.9 519.3,150.7 522.1,163.6 527.0,135.0 530.0,136.4 532.9,152.1 541.1,133.6 544.0,145.7 546.4,138.3 549.3,143.6 552.1,141.4 557.1,146.4 560.0,132.9 565.7,131.4 573.6,124.3 576.4,137.9 579.3,142.1 585.0,130.0 590.0,150.0 593.6,139.3 597.0,139.0 601.4,109.3 607.1,147.9 610.0,137.1 615.0,121.4 620.0,120.0 623.6,132.9 628.6,136.4 631.4,120.0 633.6,130.0 636.4,128.6 642.9,140.7 647.1,139.3 650.7,132.1 656.4,112.9 660.7,135.0 664.3,120.0 670.0,140.7 675.0,130.7 680.0,123.6 686.4,110.0 689.3,115.0 694.3,140.0 699.3,135.0 702.9,130.0 705.7,125.7 710.7,117.1 713.6,121.4 716.4,107.1 719.3,137.9 724.3,144.3 727.1,134.3 730.0,154.3 735.7,139.5 742.9,165.0 746.4,176.4 751.4,158.6 756.4,155.0 763.6,167.9 765.7,162.9 771.4,173.6 779.3,178.6 782.1,166.4 787.9,167.1 793.6,182.1 795.7,178.6 799.3,187.1 804.3,186.4 809.3,208.6 812.1,195.7 815.0,191.4 822.9,204.3 826.4,189.3 831.4,194.3 834.3,207.9 837.1,201.4 840.0,209.3 845.7,199.3 850.7,215.7 858.6,202.9 861.4,220.7 867.1,210.0 870.0,213.6 872.6,202.9 880.7,230.0 883.6,225.7 887.9,237.1 892.1,222.1 897.9,245.0 901.4,247.9 904.3,249.3 907.9,240.0 912.9,246.4 917.1,258.6 924.3,248.6 927.1,259.3 930.0,261.4 935.0,281.4 938.6,257.1 942.9,253.6 949.3,267.1 953.6,274.3 958.6,288.6 962.8,281.6 968.3,293.4 973.9,283.3 982.1,297.0 984.9,289.4 989.2,296.5 994.0,324.3 998.3,314.6 1003.5,310.6 1009.7,286.2 1012.9,305.6 1016.2,309.4 1019.9,308.3 1024.3,311.0 1028.6,298.1 1031.3,311.6 1034.0,296.5 1042.3,317.7 1050.7,294.3 1053.4,306.2 1056.1,298.1 1058.8,311.0 1066.4,318.0 1072.3,291.6 1075.4,306.2" fill="none" stroke="#ff0000" stroke-width="1.0" stroke-dasharray="2.0 1.25"/>
<polyline points="78.5,396.0 82.2,386.0 84.3,380.6 87.8,379.2 92.0,390.0 95.0,382.0 98.0,377.0 100.4,375.0 102.5,386.0 106.0,396.7 110.2,390.4 114.4,381.3 120.0,377.8 124.2,376.4 127.7,375.7 130.5,377.1 133.3,383.4 138.2,389.7 141.7,384.8 145.2,377.8 149.4,373.6 153.6,370.1 155.5,372.0 157.8,379.9 160.6,359.6 163.4,372.2 168.3,366.6 171.1,380.6 174.6,370.8 178.8,387.6 181.5,385.0 184.5,383.0 187.9,373.6 190.0,383.0 192.8,384.4 195.6,385.8 198.7,347.3 201.2,360.6 204.0,359.2 206.1,355.7 210.3,347.3 213.8,348.7 217.3,357.8 220.1,357.1 223.6,371.8 227.1,362.0 229.9,358.5 234.5,373.9 238.3,357.8 240.4,352.9 243.9,350.1 247.4,348.0 250.2,339.6 253.0,336.8 255.8,355.0 259.3,352.9 261.4,340.3 265.6,338.2 269.8,336.8 273.3,352.2 279.6,351.5 285.2,345.9 289.4,334.0 292.9,343.1 297.8,327.7 299.9,334.0 306.2,329.8 310.5,331.1 313.3,322.0 316.8,305.9 319.6,310.8 322.0,325.0 324.5,343.7 327.0,338.0 330.1,328.3 333.6,329.0 338.5,314.3 340.6,322.0 344.1,308.7 346.9,317.1 350.4,308.0 353.2,303.1 355.5,309.0 357.4,305.2 360.9,309.4 363.0,305.9 365.8,311.5 368.6,301.7 372.8,303.1 376.3,300.3 379.8,297.5 383.0,296.0 386.1,292.6 389.6,301.7 393.1,304.5 398.0,308.0 401.5,300.3 407.1,313.6 412.0,301.0 414.9,298.0 417.7,286.8 419.8,295.9 421.9,292.4 425.4,274.2 428.9,260.9 432.4,275.6 435.2,281.2 437.3,278.4 440.1,286.8 442.2,293.8 445.7,292.4 447.8,296.6 450.6,286.8 453.4,282.6 456.2,286.8 459.0,270.7 463.2,277.0 467.4,280.5 470.2,275.6 472.3,253.9 474.4,260.9 477.9,254.6 480.7,264.4 482.8,261.6 487.0,253.9 490.5,254.6 494.0,260.9 497.5,260.9 499.6,243.4 503.1,239.2 508.0,239.9 510.8,249.0 513.6,242.0 516.4,246.9 521.3,241.3 524.8,244.1 527.6,248.3 530.5,240.0 532.6,232.4 535.0,238.0 538.6,245.0 540.8,247.7 544.5,235.2 547.3,226.1 551.5,228.9 554.3,224.0 557.8,205.1 561.3,212.8 563.4,218.4 566.2,213.5 568.3,224.0 571.1,220.5 573.9,204.4 576.0,210.0 580.9,206.5 585.8,191.1 588.6,195.3 592.8,216.3 596.3,194.6 601.2,172.2 604.0,204.4 609.6,216.3 612.4,213.5 615.2,217.7 618.0,201.6 622.9,185.5 628.5,203.7 633.4,205.8 636.9,210.7 639.8,204.4 642.6,194.6 645.4,195.3 648.2,201.6 653.1,198.1 657.3,197.4 659.4,200.2 661.5,189.7 665.0,198.8 668.5,199.5 673.4,195.3 676.2,201.6 678.3,219.1 681.1,218.4 683.9,200.2 686.0,190.4 688.1,203.0 689.5,213.5 692.3,212.8 695.8,217.0 699.3,218.4 702.8,203.7 705.6,208.6 708.4,200.9 712.6,203.0 716.1,199.5 718.9,189.0 723.8,206.5 727.3,208.6 730.1,217.0 733.6,215.6 737.7,214.9 740.5,228.2 744.0,245.0 746.0,322.0 747.5,278.6 748.9,222.6 751.0,229.6 754.5,248.5 758.0,243.6 760.1,246.4 763.6,238.7 766.4,240.1 771.3,221.9 774.1,232.4 776.2,224.0 779.0,229.6 781.8,258.3 787.4,245.0 790.2,251.3 793.7,252.0 798.6,243.6 801.4,258.3 804.9,252.0 808.4,256.2 811.2,268.8 814.0,270.9 815.4,265.3 818.2,275.8 821.0,260.4 823.8,259.0 826.6,254.8 829.4,254.8 833.6,270.2 836.4,274.4 840.6,268.8 843.4,267.4 846.3,271.9 850.5,269.8 854.0,281.0 856.1,282.4 858.9,277.5 861.7,283.8 865.9,308.3 868.7,308.3 873.6,311.1 875.7,306.2 877.8,287.3 881.3,303.4 883.4,296.4 886.2,285.2 889.7,290.1 893.9,292.9 896.0,307.6 898.8,311.8 901.6,313.9 905.1,321.6 907.9,318.8 910.7,303.4 913.5,298.5 916.3,308.3 920.5,317.4 924.2,317.7 926.3,328.2 929.8,340.1 933.3,328.2 936.8,331.0 940.3,322.6 943.1,319.8 945.9,333.8 948.7,350.6 954.3,336.6 956.4,340.1 959.9,352.0 965.5,340.8 968.3,350.6 971.8,351.3 976.0,350.6 980.2,364.6 984.4,371.6 989.3,363.9 991.4,367.4 995.6,378.6 998.5,387.7 1001.1,367.5 1003.7,364.9 1006.9,364.3 1009.5,361.7 1012.1,348.0 1014.1,354.5 1016.7,367.5 1019.9,381.2 1022.5,381.2 1025.1,385.1 1029.0,368.2 1031.6,380.5 1034.2,397.4 1036.8,385.7 1040.1,373.4 1042.7,374.0 1045.3,385.7 1047.9,368.2 1050.5,367.5 1053.7,362.3 1055.7,372.7 1058.3,392.2 1060.2,381.8 1061.5,373.4 1064.1,383.8 1067.4,378.6 1070.6,384.4 1073.2,389.6 1075.4,388.3" fill="none" stroke="#a6d4e4" stroke-width="1.5" stroke-dasharray="5.1 2.2"/>
<polyline points="78.5,336.4 81.6,347.1 83.5,347.5 86.6,339.3 90.1,349.3 93.0,352.1 95.3,355.6 98.0,345.0 102.3,347.3 105.7,340.0 108.5,356.5 111.3,351.4 114.0,356.2 119.4,339.2 122.0,345.0 127.2,354.3 130.1,352.1 133.0,356.3 136.0,350.0 138.0,346.0 140.7,340.5 144.0,347.0 147.5,336.8 150.5,341.0 155.5,339.4 158.8,338.0 163.4,341.8 166.0,355.6 170.0,349.0 173.5,340.0 177.0,343.5 180.1,335.0 182.4,343.0 186.3,337.8 190.9,337.1 195.6,320.5 198.1,322.4 200.6,324.9 204.4,330.0 208.2,324.9 210.1,323.6 212.6,324.9 213.9,327.4 217.0,328.0 219.5,316.1 220.8,313.6 223.3,316.7 226.5,318.0 230.9,319.9 233.4,324.9 235.3,326.8 238.4,321.1 241.0,317.3 244.3,313.6 247.9,325.7 251.4,315.7 253.6,322.9 259.3,310.0 262.5,309.5 266.4,305.7 270.0,312.9 274.3,311.4 280.7,301.4 285.7,307.9 289.3,302.1 293.6,309.3 297.0,308.0 302.9,316.4 305.7,295.0 307.9,305.7 315.7,285.5 321.0,283.7 324.4,281.1 330.3,304.0 332.9,288.0 336.3,299.0 339.7,286.2 343.0,283.5 346.5,284.5 349.9,277.7 353.3,273.5 357.5,269.2 362.9,272.1 368.6,261.4 374.3,277.1 379.3,268.6 382.5,280.0 387.5,255.5 393.6,267.1 398.6,265.7 401.4,274.3 407.1,263.6 409.8,276.4 413.6,267.1 415.7,267.9 417.9,255.0 421.4,250.7 425.7,241.4 431.4,236.4 434.3,255.0 437.0,255.0 440.0,250.7 442.9,260.0 445.0,261.4 450.0,257.1 455.7,241.4 458.6,249.3 461.4,231.4 464.3,243.6 467.1,240.7 470.0,251.4 474.3,221.4 477.0,220.0 480.0,219.0 483.6,207.1 488.6,207.9 492.1,200.7 497.1,219.3 502.0,211.0 508.6,202.1 511.4,188.6 513.6,189.3 516.4,212.9 519.3,200.0 522.1,198.6 527.1,201.4 530.0,197.9 532.9,208.0 535.7,195.7 538.6,205.7 541.4,188.6 544.3,184.3 546.9,192.9 549.7,179.3 555.0,186.4 560.3,160.0 563.6,164.3 565.7,176.4 568.6,170.0 571.4,187.9 576.4,162.9 580.0,169.3 585.0,163.6 587.9,179.3 593.1,184.3 598.9,154.3 601.4,160.7 604.3,162.1 607.1,172.1 612.1,175.0 615.7,162.1 617.9,170.7 620.7,157.1 626.0,153.6 628.6,157.9 631.4,177.1 637.1,162.1 640.0,182.1 645.7,167.1 652.9,171.4 659.3,152.1 662.1,152.9 664.3,170.7 669.7,157.9 672.9,170.7 675.7,160.0 681.4,150.7 684.3,155.7 689.3,145.0 692.1,171.4 697.1,178.6 700.0,162.1 702.9,178.6 705.7,151.4 708.6,180.7 710.7,183.6 716.4,155.0 719.3,167.9 724.6,154.3 730.0,172.9 732.9,165.7 738.6,185.7 743.6,188.6 746.4,215.7 749.3,193.8 754.3,180.7 757.9,198.6 762.9,192.9 765.7,204.3 771.4,192.9 774.3,199.3 777.1,195.7 780.0,207.1 785.7,200.0 787.5,201.0 790.0,225.7 792.9,219.3 796.0,224.0 801.4,229.3 804.3,218.6 807.1,226.4 809.3,214.3 812.9,220.7 815.0,221.0 818.6,229.3 822.0,229.0 825.7,235.7 829.3,225.0 833.8,231.8 837.1,220.0 842.1,245.0 845.0,237.1 849.0,242.0 852.9,244.3 855.7,242.1 858.6,257.1 862.9,258.6 867.2,262.0 869.5,243.5 872.6,239.0 875.8,242.3 878.9,256.0 883.1,272.7 888.6,262.1 894.3,255.7 897.1,267.1 900.0,264.0 902.9,267.1 907.1,266.4 912.0,271.0 916.4,277.1 921.4,294.3 926.7,301.0 930.7,298.6 935.7,300.0 940.5,289.0 944.0,292.0 947.1,300.0 951.4,300.5 955.5,309.0 960.0,317.0 965.2,314.0 970.8,329.0 974.2,323.4 979.4,331.0 982.1,323.8 985.8,329.6 990.0,341.5 993.7,344.5 997.8,348.0 1001.1,343.5 1004.0,337.5 1006.4,326.0 1009.0,324.5 1011.8,327.0 1014.5,334.0 1016.5,342.0 1019.9,346.7 1023.2,343.5 1025.8,359.1 1028.5,341.0 1031.3,330.8 1034.0,329.2 1036.8,344.1 1040.5,336.0 1045.3,328.6 1048.6,337.8 1052.0,337.5 1055.5,339.5 1058.3,352.5 1060.9,350.6 1064.1,354.5 1066.7,340.2 1069.3,349.5 1072.6,340.9 1075.4,343.5" fill="none" stroke="#000" stroke-width="3" stroke-linejoin="round" stroke-linecap="round"/>
<polyline points="80.5,374.5 82.8,347.0 92.0,406.0 95.0,378.0 97.5,342.0 100.1,312.6 103.0,332.1 105.9,332.9 108.7,334.3 110.9,340.0 113.7,320.0 115.9,335.7 119.4,328.6 122.3,335.7 127.3,325.7 130.1,340.0 132.5,348.5 135.0,340.0 138.7,323.6 141.0,345.0 144.0,338.0 149.4,319.3 152.0,372.0 154.5,341.0 158.0,331.4 160.1,334.3 163.7,331.4 168.7,337.0 171.4,321.6 174.1,319.8 176.4,315.8 178.5,326.0 180.5,334.2 182.3,334.5 184.0,327.0 185.5,315.0 187.3,278.6 190.9,280.0 193.0,288.6 195.6,321.0 198.0,322.0 200.0,324.0 204.4,297.2 206.9,298.5 209.5,302.0 212.2,323.0 215.5,314.2 217.2,326.0 219.5,312.3 223.3,284.0 226.5,283.3 229.0,282.0 230.9,285.9 232.7,288.4 234.0,287.7 237.8,316.1 240.5,303.0 242.9,297.1 245.7,305.7 248.0,305.0 251.4,287.1 253.6,302.1 256.0,300.0 265.0,297.1 267.9,320.7 270.0,300.0 272.9,286.4 275.7,329.3 278.0,320.0 280.0,310.0 286.4,280.7 291.4,301.4 294.9,319.6 297.0,305.0 301.0,306.0 303.0,312.0 307.0,306.4 312.5,319.6 313.6,326.2 319.1,326.2 321.8,285.0 324.5,279.5 327.8,292.5 335.4,244.6 338.0,244.6 340.5,254.8 343.5,236.0 346.5,231.0 351.6,236.0 355.0,330.5 360.7,276.0 363.6,261.4" fill="none" stroke="#000" stroke-width="1.2" stroke-linejoin="round" stroke-linecap="round"/>
</g>
<rect x="78.5" y="60.5" width="996.9" height="384.8" fill="none" stroke="#000" stroke-width="1.1"/>
<path d="M73.60,403.40H78.5M73.60,356.40H78.5M73.60,309.40H78.5M73.60,262.40H78.5M73.60,215.40H78.5M73.60,168.40H78.5M73.60,121.40H78.5M73.60,74.40H78.5M78.50,445.3V450.20M163.40,445.3V450.20M240.09,445.3V450.20M324.99,445.3V450.20M407.15,445.3V450.20M492.05,445.3V450.20M574.21,445.3V450.20M659.11,445.3V450.20M744.01,445.3V450.20M826.18,445.3V450.20M911.08,445.3V450.20M993.24,445.3V450.20" stroke="#000" stroke-width="1.1" fill="none"/>
<text x="69.0" y="410.4" text-anchor="end" font-size="20" font-family="Liberation Sans, sans-serif">0</text>
<text x="69.0" y="363.4" text-anchor="end" font-size="20" font-family="Liberation Sans, sans-serif">5</text>
<text x="67.8" y="316.4" text-anchor="end" font-size="20" font-family="Liberation Sans, sans-serif">10</text>
<text x="67.8" y="269.4" text-anchor="end" font-size="20" font-family="Liberation Sans, sans-serif">15</text>
<text x="67.8" y="222.4" text-anchor="end" font-size="20" font-family="Liberation Sans, sans-serif">20</text>
<text x="67.8" y="175.4" text-anchor="end" font-size="20" font-family="Liberation Sans, sans-serif">25</text>
<text x="67.8" y="128.4" text-anchor="end" font-size="20" font-family="Liberation Sans, sans-serif">30</text>
<text x="67.8" y="81.4" text-anchor="end" font-size="20" font-family="Liberation Sans, sans-serif">35</text>
<text x="78.5" y="468.9" text-anchor="middle" font-size="18" font-family="Liberation Sans, sans-serif">Ene</text>
<text x="163.4" y="468.9" text-anchor="middle" font-size="18" font-family="Liberation Sans, sans-serif">Feb</text>
<text x="240.1" y="468.9" text-anchor="middle" font-size="18" font-family="Liberation Sans, sans-serif">Mar</text>
<text x="325.0" y="468.9" text-anchor="middle" font-size="18" font-family="Liberation Sans, sans-serif">Abr</text>
<text x="407.1" y="468.9" text-anchor="middle" font-size="18" font-family="Liberation Sans, sans-serif">May</text>
<text x="492.0" y="468.9" text-anchor="middle" font-size="18" font-family="Liberation Sans, sans-serif">Jun</text>
<text x="574.2" y="468.9" text-anchor="middle" font-size="18" font-family="Liberation Sans, sans-serif">Jul</text>
<text x="659.1" y="468.9" text-anchor="middle" font-size="18" font-family="Liberation Sans, sans-serif">Ago</text>
<text x="744.0" y="468.9" text-anchor="middle" font-size="18" font-family="Liberation Sans, sans-serif">Sep</text>
<text x="826.2" y="468.9" text-anchor="middle" font-size="18" font-family="Liberation Sans, sans-serif">Oct</text>
<text x="911.1" y="468.9" text-anchor="middle" font-size="18" font-family="Liberation Sans, sans-serif">Nov</text>
<text x="993.2" y="468.9" text-anchor="middle" font-size="18" font-family="Liberation Sans, sans-serif">Dic</text>
<text x="347.7" y="31.8" font-size="26" fill="#2b6ca8" textLength="457" lengthAdjust="spacingAndGlyphs" font-family="Liberation Sans, sans-serif">Temperatura Media diaria - Leciñena</text>
<text x="50.0" y="54.8" font-size="18" textLength="19.6" lengthAdjust="spacingAndGlyphs" font-family="Liberation Sans, sans-serif">°C</text>
<text x="83.6" y="54.8" font-size="18" textLength="208" lengthAdjust="spacingAndGlyphs" font-family="Liberation Sans, sans-serif">Última temp: 2026-04-15</text>
<text x="89.5" y="83.7" font-size="22.8" fill="#2b6ca8" textLength="238.4" lengthAdjust="spacingAndGlyphs" font-family="Liberation Sans, sans-serif">WWW.EMBALSES.NET</text>
<rect x="186" y="476.5" width="782" height="40" rx="4" ry="4" fill="#fff" fill-opacity="0.8" stroke="#cccccc" stroke-width="1"/>
<path d="M192.1,491.3H224.6" stroke="#ff0000" stroke-width="1.0" stroke-dasharray="2.0 1.25"/>
<path d="M370.4,491.3H403.4" stroke="#a6d4e4" stroke-width="1.5" stroke-dasharray="5.1 2.2"/>
<path d="M537.1,491.3H572.9" stroke="#000" stroke-width="3"/>
<path d="M799.1,491.3H832.9" stroke="#000" stroke-width="1.2"/>
<text x="239.8" y="497" font-size="18" textLength="96.4" lengthAdjust="spacingAndGlyphs" font-family="Liberation Sans, sans-serif">Percentil 95</text>
<text x="418" y="497" font-size="18" textLength="85.7" lengthAdjust="spacingAndGlyphs" font-family="Liberation Sans, sans-serif">Percentil 5</text>
<text x="584.2" y="497" font-size="18" textLength="180.2" lengthAdjust="spacingAndGlyphs" font-family="Liberation Sans, sans-serif">Temperatura Mediana</text>
<text x="846.2" y="497" font-size="18" textLength="114.8" lengthAdjust="spacingAndGlyphs" font-family="Liberation Sans, sans-serif">T. Media 2026</text>
</svg></body></html>
